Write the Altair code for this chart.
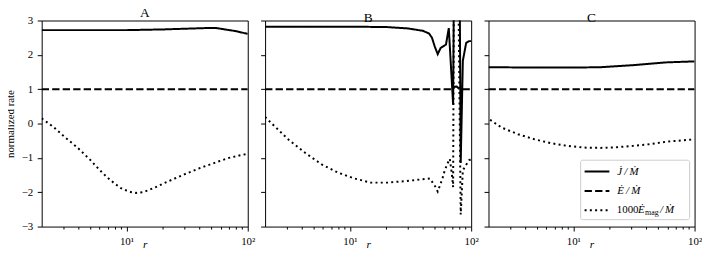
import altair as alt
import pandas as pd

FONT = "Liberation Serif"

SERIES = ["J", "E", "Emag"]
DASHES = [[1, 0], [7.4, 3.2], [2, 3.3]]

# ---------- Panel A ----------
a_J_r = [2, 5, 10, 20, 30, 45, 55, 65, 80, 100]
a_J_v = [2.72, 2.72, 2.72, 2.74, 2.76, 2.78, 2.78, 2.74, 2.69, 2.61]
a_E_r = [2, 100]
a_E_v = [1.0, 1.0]
a_M_r = [2, 2.5, 3, 4, 5, 6, 7, 8, 9, 10, 11, 12, 13.5, 15, 18, 20, 25, 30, 40, 50, 60, 70, 85, 100]
a_M_v = [0.15, -0.1, -0.35, -0.72, -1.05, -1.35, -1.58, -1.75, -1.88, -1.95, -2.0, -2.02, -2.0,
         -1.95, -1.83, -1.75, -1.6, -1.48, -1.3, -1.18, -1.08, -1.0, -0.93, -0.88]

# ---------- Panel B ----------
b_J_r = [2, 5, 10, 20, 30, 40, 45, 47.5, 50, 53, 56, 62, 65.4, 71, 72, 80.5, 82, 85.4, 91, 96, 100]
b_J_v = [2.82, 2.82, 2.82, 2.81, 2.77, 2.70, 2.62, 2.5, 2.25, 2.02, 2.2, 2.3, 2.78, 0.55, 3.8, 3.8,
         -1.15, 1.83, 2.35, 2.4, 2.4]
b_E_r = [2, 70, 73, 76, 79, 81, 100]
b_E_v = [1.0, 1.0, 1.07, 1.08, 1.02, 1.0, 1.0]
b_M_r = [2, 3.1, 4.3, 5.85, 8, 10.9, 14.9, 20.4, 27.8, 38, 45.7, 50.5, 53, 58, 60.6, 64.7, 66.7,
         69.5, 71, 72, 78.5, 82, 85.4, 91, 96.6, 100]
b_M_v = [0.19, -0.46, -0.86, -1.19, -1.43, -1.6, -1.72, -1.72, -1.68, -1.63, -1.6, -1.83, -1.98,
         -1.6, -1.36, -1.12, -1.03, -1.5, -1.85, 3.8, 3.8, -2.65, -1.36, -1.2, -1.06, -1.05]

# ---------- Panel C ----------
c_J_r = [2, 5, 10, 16.7, 31.2, 58, 100]
c_J_v = [1.64, 1.63, 1.63, 1.64, 1.70, 1.78, 1.81]
c_E_r = [2, 100]
c_E_v = [1.0, 1.0]
c_M_r = [2.06, 2.57, 3.5, 4.8, 6.5, 8.9, 12.2, 16.7, 22.8, 31.2, 42.6, 58, 100]
c_M_v = [0.11, -0.12, -0.31, -0.46, -0.57, -0.65, -0.70, -0.71, -0.69, -0.65, -0.60, -0.53, -0.46]

X_TICKS = [3, 4, 5, 6, 7, 8, 9, 10, 20, 30, 40, 50, 60, 70, 80, 90, 100]
Y_TICKS = [-3, -2, -1, 0, 1, 2, 3]

W, H = 208, 208


def frame(rJ, vJ, rE, vE, rM, vM):
    rows = []
    for s, rr, vv in (("J", rJ, vJ), ("E", rE, vE), ("Emag", rM, vM)):
        for r, v in zip(rr, vv):
            rows.append({"s": s, "r": r, "v": v})
    return pd.DataFrame(rows)


def panel(name, df, show_y):
    xaxis = alt.Axis(
        values=X_TICKS,
        labelExpr="datum.value == 10 ? '10¹' : (datum.value == 100 ? '10²' : '')",
        tickSize={"condition": {"test": "datum.value == 10 || datum.value == 100", "value": 4.5}, "value": 2.5},
        title="r", titleFontStyle="italic", titleFontSize=11.5, titleFontWeight="normal",
        titleY=21, titleBaseline="alphabetic",
        grid=False, domain=False, labelOverlap=False, labelFlush=False,
        labelFontSize=11, labelPadding=4.5,
    )
    yaxis = alt.Axis(
        values=Y_TICKS,
        labelExpr="datum.value < 0 ? '−' + abs(datum.value) : '' + datum.value",
        tickSize=4.5, grid=False, domain=False, labels=show_y,
        title="normalized rate" if show_y else None,
        titleFontSize=11, titleFontWeight="normal", titlePadding=6,
        labelFontSize=11, labelPadding=4.5,
    )
    return alt.Chart(df).mark_line(color="black", strokeWidth=2, clip=True, strokeCap="butt").encode(
        x=alt.X("r:Q", scale=alt.Scale(type="log", domain=[2, 100]), axis=xaxis),
        y=alt.Y("v:Q", scale=alt.Scale(domain=[-3, 3]), axis=yaxis),
        strokeDash=alt.StrokeDash("s:N", scale=alt.Scale(domain=SERIES, range=DASHES), legend=None),
        detail="s:N",
    ).properties(width=W, height=H, title=name)


A = panel("A", frame(a_J_r, a_J_v, a_E_r, a_E_v, a_M_r, a_M_v), True)
B = panel("B", frame(b_J_r, b_J_v, b_E_r, b_E_v, b_M_r, b_M_v), False)
Cl = panel("C", frame(c_J_r, c_J_v, c_E_r, c_E_v, c_M_r, c_M_v), False)

# ---------- manual legend in panel C ----------
one = pd.DataFrame({"k": [0]})
box = alt.Chart(one).mark_rect(fill="white", fillOpacity=0.8, stroke="#cccccc", strokeWidth=1,
                               cornerRadius=2).encode(
    x=alt.value(93), x2=alt.value(203), y=alt.value(H - 67), y2=alt.value(H - 7))
rows_y = [H - 55.5, H - 36, H - 16.5]
leg = [box]
for yy, dash in zip(rows_y, DASHES):
    leg.append(alt.Chart(one).mark_rule(color="black", strokeWidth=2, strokeDash=dash).encode(
        x=alt.value(97), x2=alt.value(122), y=alt.value(yy)))
txt = dict(font=FONT, fontSize=11, color="black", align="left", baseline="middle")
leg.append(alt.Chart(one).mark_text(fontStyle="italic", **txt).encode(
    x=alt.value(130), y=alt.value(rows_y[0]), text=alt.value("J̇\u2009/\u2009Ṁ")))
leg.append(alt.Chart(one).mark_text(fontStyle="italic", **txt).encode(
    x=alt.value(130), y=alt.value(rows_y[1]), text=alt.value("Ė\u2009/\u2009Ṁ")))
leg.append(alt.Chart(one).mark_text(**txt).encode(
    x=alt.value(129.5), y=alt.value(rows_y[2]), text=alt.value("1000")))
leg.append(alt.Chart(one).mark_text(fontStyle="italic", **txt).encode(
    x=alt.value(151), y=alt.value(rows_y[2]), text=alt.value("Ė")))
leg.append(alt.Chart(one).mark_text(font=FONT, fontSize=8, color="black", align="left",
                                    baseline="middle").encode(
    x=alt.value(158), y=alt.value(rows_y[2] + 3), text=alt.value("mag")))
leg.append(alt.Chart(one).mark_text(fontStyle="italic", **txt).encode(
    x=alt.value(173), y=alt.value(rows_y[2]), text=alt.value("/\u2009Ṁ")))

C = alt.layer(Cl, *leg)

chart = alt.hconcat(A, B, C, spacing=3.5).properties(
    padding={"left": -5, "top": -4.5, "right": -0.5, "bottom": -3}
).configure_view(stroke="black", strokeWidth=1).configure_axis(
    labelFont=FONT, titleFont=FONT, labelColor="black", titleColor="black",
    tickColor="black", tickWidth=1,
).configure_title(font=FONT, fontSize=13.5, fontWeight="normal", color="black", offset=-4.5,
                  baseline="bottom")

chart.save("out.html", embed_options={"renderer": "svg", "actions": False})
